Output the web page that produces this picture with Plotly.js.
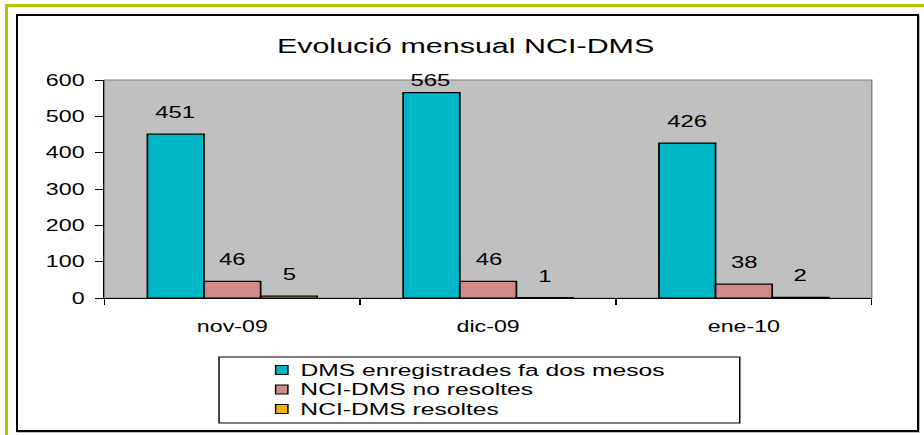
<!DOCTYPE html>
<html>
<head>
<meta charset="utf-8">
<script src="https://cdn.plot.ly/plotly-3.0.1.min.js"></script>
<style>
  html, body { margin: 0; padding: 0; background: #ffffff; }
  body { width: 924px; height: 435px; overflow: hidden; position: relative; }
  #olive { position: absolute; left: 5px; top: 4px; width: 930px; height: 440px;
           border-left: 3px solid #b5c400; border-top: 3px solid #b5c400; }
  #frame { position: absolute; left: 16px; top: 14px; width: 899px; height: 414px;
           border: 2px solid #000; box-shadow: 1px 1px 0 #bdbdbd; }
  #chart { position: absolute; left: 0; top: 0; width: 637px; height: 435px;
           transform: scaleX(1.4505); transform-origin: 0 0; }
</style>
</head>
<body>
<div id="olive"></div>
<div id="frame"></div>
<div id="chart"></div>
<script>
// Monthly counts
const months = ['nov-09', 'dic-09', 'ene-10'];
const seriesNames = ['DMS enregistrades fa dos mesos', 'NCI-DMS no resoltes', 'NCI-DMS resoltes'];
const dmsRegistered = [451, 565, 426];
const nciUnresolved = [46, 46, 38];
const nciResolved = [5, 1, 2];
const yTickVals = [0, 100, 200, 300, 400, 500, 600];
const yTickText = ['0', '100', '200', '300', '400', '500', '600'];

const seriesValues = [dmsRegistered, nciUnresolved, nciResolved];
const seriesColors = ['#00b7c7', '#d08a8a', '#f0b010'];

// Geometry (unscaled chart coordinates)
const W = 637, H = 435;
const M = { l: 72, r: 36, t: 80, b: 137 };
const PW = W - M.l - M.r, PH = H - M.t - M.b;
const Y_MAX = 600;
const BARGAP = 0.336;
const barUnit = (1 - BARGAP) / seriesValues.length;
const px2paperX = x => (x - M.l) / PW;
const px2paperY = y => (H - M.b - y) / PH;

const FONT = 'Liberation Sans, Arial, sans-serif';

const traces = seriesValues.map((vals, k) => ({
  type: 'bar',
  name: seriesNames[k],
  x: months,
  y: vals,
  marker: { color: seriesColors[k], line: { color: '#000', width: 1.2 } },
  showlegend: false,
  hoverinfo: 'skip'
}));

// Value labels above each bar, kept inside the plot area at the top
const annotations = [];
seriesValues.forEach((vals, k) => {
  vals.forEach((v, i) => {
    const topPx = PH - v * PH / Y_MAX;          // bar top measured from plot top
    const centerPx = Math.max(topPx - 22, 0);  // label centre
    annotations.push({
      x: i + (k - 1) * barUnit,
      y: v,
      xref: 'x', yref: 'y',
      yshift: topPx - centerPx,
      text: String(v),
      showarrow: false,
      font: { family: FONT, size: 16.5, color: '#000' }
    });
  });
});

// Legend drawn as a boxed list of swatches and names
const legendBox = { x0: 151, x1: 510, y0: 357, y1: 423 };
const legendRows = [370, 389.5, 409];
const shapes = [
  // plot area outline (top/right in grey)
  { type: 'rect', xref: 'paper', yref: 'paper', x0: 0, x1: 1, y0: 0, y1: 1,
    line: { color: '#808080', width: 1 }, layer: 'below' },
  { type: 'rect', xref: 'paper', yref: 'paper',
    x0: px2paperX(legendBox.x0), x1: px2paperX(legendBox.x1),
    y0: px2paperY(legendBox.y1), y1: px2paperY(legendBox.y0),
    line: { color: '#000', width: 1 }, fillcolor: '#fff' }
];
seriesNames.forEach((name, k) => {
  const cy = legendRows[k];
  shapes.push({ type: 'rect', xref: 'paper', yref: 'paper',
    x0: px2paperX(190), x1: px2paperX(198.5),
    y0: px2paperY(cy + 4.5), y1: px2paperY(cy - 4.5),
    fillcolor: seriesColors[k], line: { color: '#000', width: 1 } });
  annotations.push({ xref: 'paper', yref: 'paper',
    x: px2paperX(205), y: px2paperY(cy),
    xanchor: 'left', yanchor: 'middle', text: name, showarrow: false,
    font: { family: FONT, size: 17, color: '#000' } });
});

const layout = {
  width: W, height: H, autosize: false,
  margin: M,
  paper_bgcolor: 'rgba(0,0,0,0)',
  plot_bgcolor: '#c0c0c0',
  font: { family: FONT, color: '#000' },
  title: {
    text: 'Evolució mensual NCI-DMS',
    font: { family: FONT, size: 21, color: '#000' },
    xref: 'container', yref: 'container',
    x: 321 / W, y: 1 - 46 / H, xanchor: 'center', yanchor: 'middle'
  },
  barmode: 'group',
  bargap: BARGAP,
  bargroupgap: 0,
  xaxis: {
    type: 'category',
    tickson: 'boundaries',
    ticks: 'outside', ticklen: 6, tickcolor: '#000', tickwidth: 1,
    showline: true, linecolor: '#000', linewidth: 1,
    showgrid: false, zeroline: false,
    tickfont: { family: FONT, size: 16, color: '#000' },
    ticklabelstandoff: 14,
    fixedrange: true
  },
  yaxis: {
    range: [0, Y_MAX],
    tickvals: yTickVals, ticktext: yTickText,
    ticks: 'outside', ticklen: 5.5, tickcolor: '#000', tickwidth: 1,
    showline: true, linecolor: '#000', linewidth: 1,
    showgrid: false, zeroline: false,
    tickfont: { family: FONT, size: 16, color: '#000' },
    ticklabelstandoff: 4,
    fixedrange: true
  },
  shapes: shapes,
  annotations: annotations
};

Plotly.newPlot('chart', traces, layout, { displayModeBar: false, staticPlot: true });
</script>
</body>
</html>
